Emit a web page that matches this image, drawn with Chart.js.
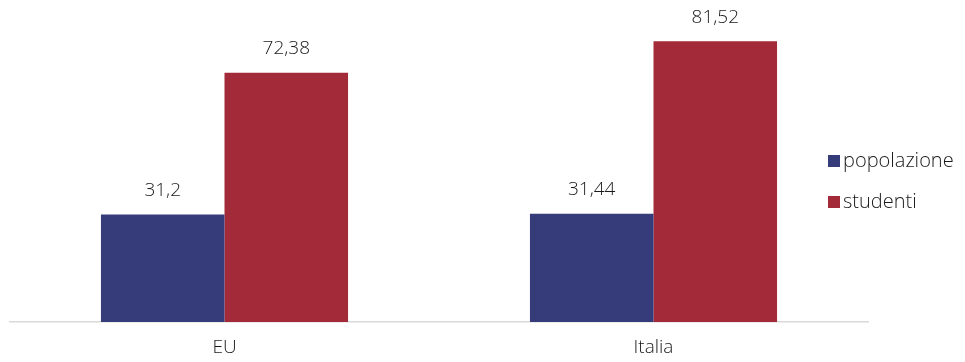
<!DOCTYPE html>
<html>
<head>
<meta charset="utf-8">
<script src="https://cdn.jsdelivr.net/npm/chart.js@4/dist/chart.umd.min.js"></script>
<style>
  html, body { margin: 0; padding: 0; background: #fff; }
  #wrap { width: 965px; height: 362px; }
</style>
</head>
<body>
<div id="wrap"><canvas id="chart" width="965" height="362"></canvas></div>
<script>
// Categories and series
const categories = ['EU', 'Italia'];
const popolazione = [31.2, 31.44];
const studenti = [72.38, 81.52];
const seriesNames = ['popolazione', 'studenti'];
const seriesColors = ['#363b7a', '#a32a39'];

const FONT = '"Open Sans", "Noto Sans", sans-serif';
const FONT_SIZE = 19;

function fmt(v) {
    return String(v).replace('.', ',');
}

// Value labels above each bar
const valueLabels = {
    id: 'valueLabels',
    afterDatasetsDraw(chart) {
        const ctx = chart.ctx;
        ctx.save();
        ctx.font = '300 ' + FONT_SIZE + 'px ' + FONT;
        ctx.fillStyle = '#1a1a1a';
        ctx.textAlign = 'center';
        ctx.textBaseline = 'middle';
        chart.data.datasets.forEach((ds, i) => {
            const meta = chart.getDatasetMeta(i);
            meta.data.forEach((bar, j) => {
                ctx.fillText(fmt(ds.data[j]), bar.x, bar.y - 24);
            });
        });
        ctx.restore();
    }
};

// Legend drawn at the right, square markers
const sideLegend = {
    id: 'sideLegend',
    afterDraw(chart) {
        const ctx = chart.ctx;
        ctx.save();
        ctx.font = '300 20px ' + FONT;
        ctx.textBaseline = 'middle';
        chart.data.datasets.forEach((ds, i) => {
            const y = 161 + i * 41;
            ctx.fillStyle = ds.backgroundColor;
            ctx.fillRect(828, y - 6, 12, 12);
            ctx.fillStyle = '#1a1a1a';
            ctx.fillText(ds.label, 843, y);
        });
        ctx.restore();
    }
};

new Chart(document.getElementById('chart'), {
    type: 'bar',
    data: {
        labels: categories,
        datasets: [
            { label: seriesNames[0], data: popolazione, backgroundColor: seriesColors[0] },
            { label: seriesNames[1], data: studenti, backgroundColor: seriesColors[1] }
        ]
    },
    options: {
        responsive: false,
        animation: false,
        layout: { padding: { left: 10, right: 97, top: 12, bottom: 0 } },
        datasets: {
            bar: { categoryPercentage: 0.576, barPercentage: 1 }
        },
        plugins: {
            legend: { display: false },
            tooltip: { enabled: false }
        },
        scales: {
            x: {
                grid: { display: false, drawTicks: false },
                border: { display: true, color: '#d9d9d9', width: 1.5 },
                ticks: { font: { size: FONT_SIZE, family: FONT, weight: 300 }, color: '#1a1a1a', padding: 14 },
                afterFit(scale) { scale.height = 40; }
            },
            y: {
                display: false,
                min: 0,
                max: 90
            }
        }
    },
    plugins: [valueLabels, sideLegend]
});
</script>
</body>
</html>
